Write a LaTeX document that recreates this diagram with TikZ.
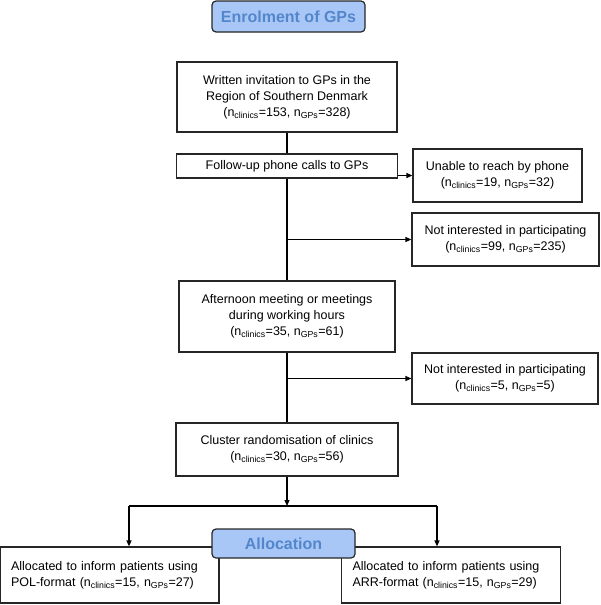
\documentclass[tikz,border=0pt]{standalone}
\usepackage{fontspec}
\setmainfont{Liberation Sans}
\usetikzlibrary{arrows.meta}
\definecolor{headfill}{RGB}{168,199,246}
\definecolor{headtext}{RGB}{84,134,204}
\newcommand{\counts}[2]{(n\textsubscript{clinics}=#1, n\textsubscript{GPs}=#2)}
\tikzset{
  box/.style={draw=black!85, line width=1.2pt, align=center, inner sep=2pt, font=\fontsize{12.5}{16}\selectfont},
  sidebox/.style={box, text width=197pt, align=left, inner xsep=11pt, minimum height=56pt},
  head/.style={draw=black!85, line width=1.2pt, fill=headfill, rounded corners=4pt, text=headtext, font=\fontsize{16}{18}\selectfont\bfseries},
}
\begin{document}
\begin{tikzpicture}[>={Triangle[length=6pt,width=5pt]}, x=1pt, y=-1pt, line width=1.2pt]
\useasboundingbox (0,0) rectangle (600,605);
\node[head, minimum width=153pt, minimum height=31pt] (enrol) at (288.5,16.5) {Enrolment of GPs};
\node[box, minimum width=220pt, minimum height=70pt] (invite) at (287,97) {Written invitation to GPs in the\\Region of Southern Denmark\\\counts{153}{328}};
\node[box, minimum width=221pt, minimum height=24pt] (follow) at (287,166) {Follow-up phone calls to GPs};
\node[box, minimum width=169pt, minimum height=53pt] (unable) at (497.5,175.5) {Unable to reach by phone\\\counts{19}{32}};
\node[box, minimum width=187pt, minimum height=53pt] (notint1) at (505.5,239.5) {Not interested in participating\\\counts{99}{235}};
\node[box, minimum width=216pt, minimum height=71pt] (meeting) at (287,316.5) {Afternoon meeting or meetings\\during working hours\\\counts{35}{61}};
\node[box, minimum width=186pt, minimum height=51pt] (notint2) at (505,378.5) {Not interested in participating\\\counts{5}{5}};
\node[box, minimum width=222pt, minimum height=53pt] (cluster) at (287,449.5) {Cluster randomisation of clinics\\\counts{30}{56}};
\node[sidebox] (pol) at (109.5,575) {Allocated to inform patients using\\POL-format \counts{15}{27}};
\node[sidebox] (arr) at (451,575) {Allocated to inform patients using\\ARR-format \counts{15}{29}};
\node[head, minimum width=143pt, minimum height=29pt] (alloc) at (283.5,543.5) {Allocation};
\coordinate (split) at (287,506);
\coordinate (splitL) at (129,506);
\coordinate (splitR) at (437,506);
\draw (invite) -- (follow);
\draw (follow) -- (meeting);
\draw[->] (follow.east |- unable.west) -- (unable.west);
\draw[->] (follow.south |- notint1.west) -- (notint1.west);
\draw (meeting) -- (cluster);
\draw[->] (meeting.south |- notint2.west) -- (notint2.west);
\draw[->] (cluster) -- (split);
\draw (splitL) -- (splitR);
\draw[->] (splitL) -- (splitL |- pol.north);
\draw[->] (splitR) -- (splitR |- arr.north);
\end{tikzpicture}
\end{document}
